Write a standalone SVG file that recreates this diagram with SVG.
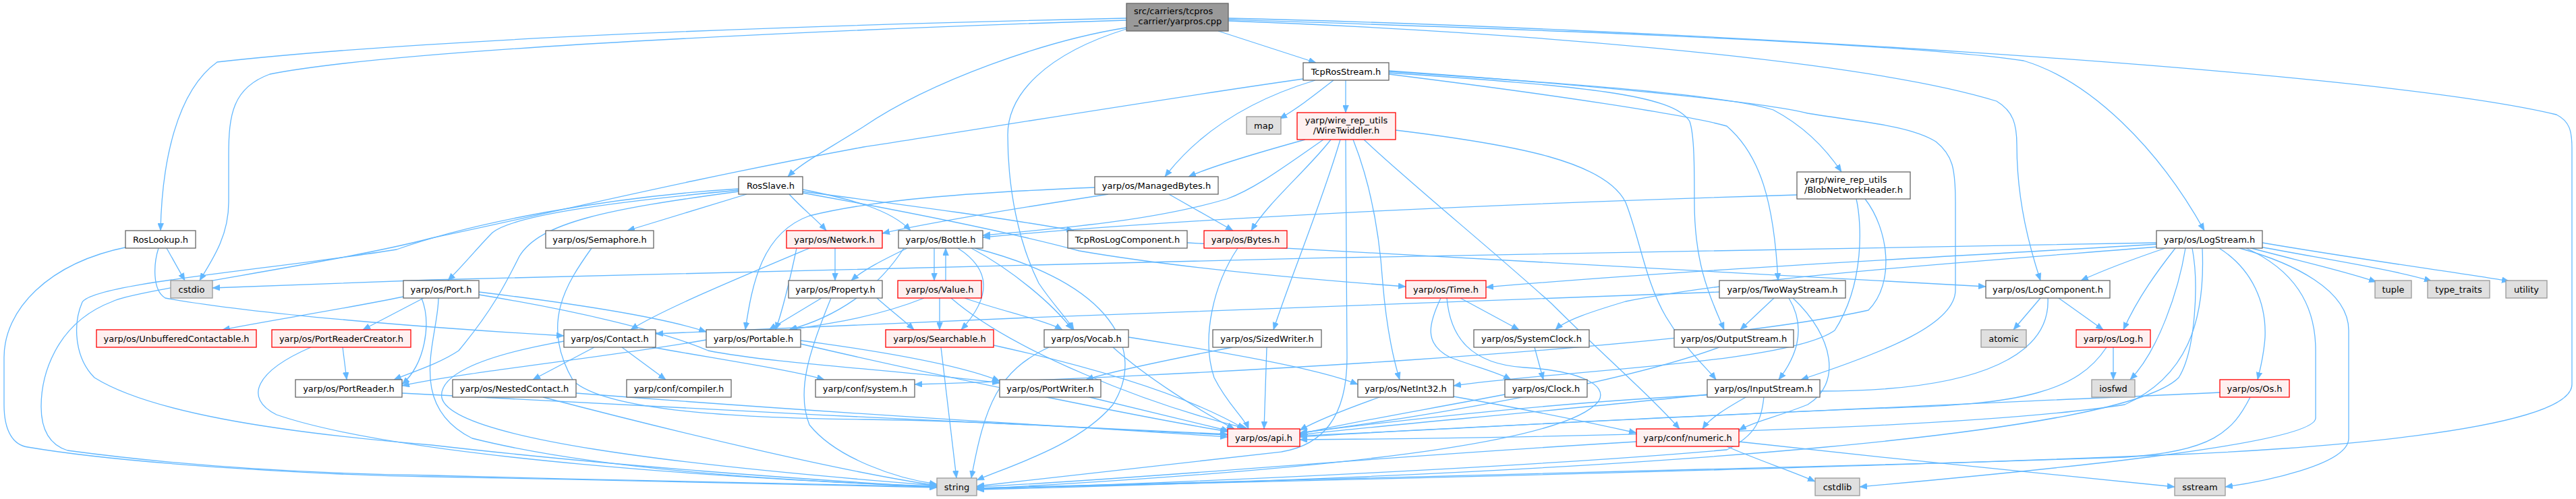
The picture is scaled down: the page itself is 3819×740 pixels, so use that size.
<svg xmlns="http://www.w3.org/2000/svg" width="3819" height="740" viewBox="0 0 3819 740">
<style>
.e{fill:none;stroke:#63B8FF;stroke-width:1.3;marker-end:url(#ah)}
.n rect{fill:#FFFFFF;stroke:#666666;stroke-width:1.3}
.r rect{fill:#FFF0F0;stroke:#FF0000;stroke-width:1.3}
.g rect{fill:#E0E0E0;stroke:#999999;stroke-width:1.3}
.root rect{fill:#999999;stroke:#666666;stroke-width:1.3}
text{font-family:"DejaVu Sans","Liberation Sans",sans-serif;font-size:13px;fill:#000000}
.c{text-anchor:middle}
</style>
<defs>
<marker id="ah" viewBox="0 0 11 9" markerWidth="11" markerHeight="9" refX="11" refY="4.5" orient="auto" markerUnits="userSpaceOnUse">
<path d="M0,0 L11,4.5 L0,9 z" fill="#63B8FF" stroke="#63B8FF" stroke-width="0.5"/>
</marker>
</defs>
<rect width="3819" height="740" fill="#FFFFFF"/>
<g id="connectors">
<path class="e" d="M1670,27 C1400,33 700,50 322,92 C262,135 240,240 238,342"/>
<path class="e" d="M1670,30 C1300,42 600,70 400,110 C345,130 339,170 339,230 L339,300 C339,350 315,385 296,416"/>
<path class="e" d="M1670,41 C1550,60 1380,120 1280,188 C1230,220 1190,240 1168,262"/>
<path class="e" d="M1806,46 L1951,93"/>
<path class="e" d="M1821,29 C2100,38 2800,60 3000,90 C3100,120 3200,220 3268,342"/>
<path class="e" d="M1821,31 C2200,45 2750,85 2960,150 C2985,165 2990,185 2990,215 C2990,300 3010,370 3025,416"/>
<path class="e" d="M1821,27 C2400,40 3500,100 3790,170 C3810,180 3813,195 3813,220 L3813,570 C3813,640 3400,668 3200,675 C2800,692 2000,712 1448,724"/>
<path class="e" d="M1670,43 C1550,80 1494,140 1494,200 C1494,280 1510,360 1540,420 C1560,450 1580,470 1592,489"/>
<path class="e" d="M1995,119 L1995,167"/>
<path class="e" d="M1977,119 C1950,140 1925,160 1897,176"/>
<path class="e" d="M1950,119 C1880,140 1790,180 1727,262"/>
<path class="e" d="M1932,117 C1700,150 1400,200 1280,218 C1000,270 800,320 640,353 C500,390 200,430 167,447 C80,480 61,560 61,603 C61,640 75,660 100,668 C300,695 500,703 640,705 C900,712 1200,718 1389,722"/>
<path class="e" d="M2059,110 C2300,140 2500,170 2560,187 C2610,230 2630,300 2636,416"/>
<path class="e" d="M2059,108 C2350,128 2480,140 2505,180 C2512,200 2512,250 2512,300 C2512,400 2540,450 2556,489"/>
<path class="e" d="M2059,106 C2300,122 2560,140 2629,163 C2680,190 2710,225 2730,255"/>
<path class="e" d="M2059,105 C2300,122 2600,148 2680,168 C2750,180 2830,185 2870,210 C2895,230 2899,250 2899,300 L2899,430 C2899,480 2800,520 2670,563"/>
<path class="e" d="M1935,207 C1870,225 1800,245 1762,262"/>
<path class="e" d="M1962,207 C1900,250 1860,280 1819,295 C1700,330 1550,340 1457,349"/>
<path class="e" d="M1973,207 C1940,250 1880,300 1855,342"/>
<path class="e" d="M1987,207 C1960,300 1910,420 1888,489"/>
<path class="e" d="M1995,207 L1997,530 C1997,620 1960,660 1900,670 C1700,692 1500,715 1448,721"/>
<path class="e" d="M2006,207 C2035,280 2046,360 2050,420 C2055,480 2065,530 2075,563"/>
<path class="e" d="M2022,207 C2100,280 2200,360 2300,450 C2380,530 2450,590 2490,636"/>
<path class="e" d="M2069,193 C2250,215 2380,240 2410,300 C2430,350 2440,420 2470,470 C2500,520 2530,545 2544,563"/>
<path class="e" d="M1733,288 L1828,342"/>
<path class="e" d="M1623,278 C1450,285 1300,295 1200,320 C1130,345 1115,420 1105,489"/>
<path class="e" d="M1643,288 C1500,310 1380,330 1308,346"/>
<path class="e" d="M1107,288 L930,342"/>
<path class="e" d="M1095,282 C900,300 760,320 730,345 C710,365 690,390 664,416"/>
<path class="e" d="M1095,284 C900,310 800,330 770,380 C750,420 730,460 680,520 C650,540 610,552 584,563"/>
<path class="e" d="M1190,281 C1260,295 1320,310 1350,342"/>
<path class="e" d="M1190,284 C1350,305 1500,325 1592,342"/>
<path class="e" d="M1170,288 C1190,310 1210,325 1225,342"/>
<path class="e" d="M1095,280 C900,292 700,330 588,370 C400,400 140,420 122,448 C108,480 110,530 140,560 C220,610 400,640 640,660 C900,690 1200,712 1389,722"/>
<path class="e" d="M1190,286 C1350,315 1500,345 1600,372 C1750,398 1950,415 2084,425"/>
<path class="e" d="M247,368 L274,416"/>
<path class="e" d="M235,368 C228,390 225,430 245,442 C400,470 700,490 836,498"/>
<path class="e" d="M190,366 C70,390 6,460 6,530 L6,600 C6,640 20,660 41,663 C200,690 500,705 640,707 C900,712 1200,718 1389,723"/>
<path class="e" d="M877,368 C840,420 800,480 850,565 C900,610 1100,620 1280,622 C1500,625 1700,640 1820,648"/>
<path class="e" d="M1200,368 C1100,410 980,460 935,489"/>
<path class="e" d="M1181,368 C1170,420 1160,460 1150,489"/>
<path class="e" d="M1238,368 L1238,416"/>
<path class="e" d="M1345,368 C1310,385 1280,400 1262,416"/>
<path class="e" d="M1385,368 L1385,416"/>
<path class="e" d="M1402,416 L1402,368"/>
<path class="e" d="M1420,368 C1470,400 1470,440 1425,489"/>
<path class="e" d="M1440,368 C1500,400 1560,450 1590,489"/>
<path class="e" d="M1445,368 C1650,420 1700,520 1650,600 C1600,660 1500,690 1448,712"/>
<path class="e" d="M1340,368 C1300,430 1240,470 1170,489"/>
<path class="e" d="M1835,368 C1800,420 1780,500 1800,560 C1820,600 1845,620 1851,636"/>
<path class="e" d="M1218,442 L1140,489"/>
<path class="e" d="M1232,442 C1200,520 1180,580 1200,630 C1240,680 1330,710 1389,718"/>
<path class="e" d="M1300,442 C1320,460 1340,475 1355,489"/>
<path class="e" d="M1393,442 L1393,489"/>
<path class="e" d="M1430,442 C1480,460 1550,475 1575,489"/>
<path class="e" d="M1410,442 C1500,520 1700,600 1850,636"/>
<path class="e" d="M1370,442 C1300,470 1230,480 1171,489"/>
<path class="e" d="M1395,515 L1418,709"/>
<path class="e" d="M1473,512 C1600,540 1750,580 1845,636"/>
<path class="e" d="M1555,515 C1480,550 1460,600 1440,709"/>
<path class="e" d="M1673,500 C1800,520 1950,545 2013,570"/>
<path class="e" d="M1650,515 C1700,560 1780,610 1830,636"/>
<path class="e" d="M1878,515 L1874,636"/>
<path class="e" d="M1827,515 C1750,530 1650,550 1610,563"/>
<path class="e" d="M2275,515 L2288,563"/>
<path class="e" d="M2231,585 C2100,610 1980,630 1927,644"/>
<path class="e" d="M2136,442 C2118,480 2110,510 2150,530 C2190,545 2220,552 2240,563"/>
<path class="e" d="M2165,442 L2252,489"/>
<path class="e" d="M2145,442 C2150,500 2180,540 2260,545 C2340,550 2385,570 2370,595 C2330,645 2100,690 1448,725"/>
<path class="e" d="M2048,588 C2000,605 1950,625 1927,638"/>
<path class="e" d="M2155,588 C2250,605 2350,625 2426,642"/>
<path class="e" d="M2590,588 C2560,605 2535,620 2524,636"/>
<path class="e" d="M2531,585 C2300,610 2000,635 1927,645"/>
<path class="e" d="M2615,588 C2612,620 2605,645 2560,667 C2300,690 1800,715 1448,725"/>
<path class="e" d="M2549,515 C2400,570 2100,620 1927,642"/>
<path class="e" d="M2630,442 L2580,489"/>
<path class="e" d="M2652,442 C2675,480 2670,520 2637,563"/>
<path class="e" d="M2658,442 C2720,500 2730,570 2680,600 C2630,620 2600,625 2578,638"/>
<path class="e" d="M2549,433 C2200,445 1500,470 972,495"/>
<path class="e" d="M2664,289 C2300,300 1800,320 1457,352"/>
<path class="e" d="M2752,295 C2760,330 2765,420 2720,490 C2650,540 2300,550 2155,572"/>
<path class="e" d="M2765,295 C2800,340 2810,420 2770,460 C2500,520 1700,560 1356,570"/>
<path class="e" d="M598,440 C500,460 400,475 330,489"/>
<path class="e" d="M628,442 L538,489"/>
<path class="e" d="M625,442 C640,480 630,540 596,570"/>
<path class="e" d="M710,433 C850,450 980,470 1047,492"/>
<path class="e" d="M710,437 C850,460 980,490 1050,520 C1150,540 1350,550 1482,568"/>
<path class="e" d="M650,442 C650,500 600,600 700,650 C900,700 1200,715 1389,721"/>
<path class="e" d="M508,515 L514,563"/>
<path class="e" d="M461,515 C380,550 360,590 410,615 C600,680 1100,710 1389,722"/>
<path class="e" d="M596,583 C900,600 1500,630 1820,644"/>
<path class="e" d="M1047,504 C900,530 700,550 596,572"/>
<path class="e" d="M1187,505 C1300,520 1420,540 1482,565"/>
<path class="e" d="M1187,510 C1400,560 1700,620 1820,640"/>
<path class="e" d="M881,515 L790,563"/>
<path class="e" d="M922,515 L987,563"/>
<path class="e" d="M967,515 C1080,535 1180,550 1222,563"/>
<path class="e" d="M836,506 C700,530 650,560 655,590 C670,650 1000,690 1389,720"/>
<path class="e" d="M805,589 C1000,640 1250,700 1389,720"/>
<path class="e" d="M854,583 C1200,610 1600,635 1820,645"/>
<path class="e" d="M1611,588 L1822,639"/>
<path class="e" d="M2426,655 C2000,680 1700,710 1448,722"/>
<path class="e" d="M2560,662 C2600,680 2660,700 2691,714"/>
<path class="e" d="M2578,655 C2800,680 3100,710 3224,722"/>
<path class="e" d="M3197,360 C2500,370 1300,395 640,415 L315,427"/>
<path class="e" d="M3330,366 C3400,385 3470,400 3523,418"/>
<path class="e" d="M3340,364 C3450,385 3550,400 3605,417"/>
<path class="e" d="M3354,360 C3500,385 3650,405 3720,417"/>
<path class="e" d="M3290,368 C3340,400 3360,450 3358,500 C3356,530 3350,550 3347,563"/>
<path class="e" d="M3225,368 C3200,400 3170,440 3148,489"/>
<path class="e" d="M3240,368 C3230,430 3200,520 3158,563"/>
<path class="e" d="M3210,368 C3160,385 3120,400 3085,416"/>
<path class="e" d="M3200,362 C2900,380 2500,400 2203,426"/>
<path class="e" d="M3200,366 C2900,390 2600,410 2410,447 C2360,462 2320,475 2306,489"/>
<path class="e" d="M3330,368 C3400,400 3433,450 3433,520 L3433,620 C3433,660 3000,700 2757,722"/>
<path class="e" d="M3320,368 C3400,390 3482,430 3482,490 L3482,650 C3482,690 3350,715 3299,722"/>
<path class="e" d="M3250,368 C3260,420 3255,520 3230,560 C3150,640 2500,700 1448,726"/>
<path class="e" d="M3265,368 C3270,480 3240,560 3150,600 C2900,640 2200,650 1927,652"/>
<path class="e" d="M3025,442 L2985,489"/>
<path class="e" d="M3052,442 L3118,489"/>
<path class="e" d="M3036,442 C3040,520 2950,580 2700,580 C2400,585 2100,620 1927,642"/>
<path class="e" d="M3123,515 C3080,580 3000,600 2800,605 C2400,620 2100,640 1927,646"/>
<path class="e" d="M3133,515 L3133,563"/>
<path class="e" d="M3291,582 C2900,600 2200,630 1927,648"/>
<path class="e" d="M3336,589 C3310,640 3280,670 3150,678 C2500,700 1800,718 1448,724"/>
<path class="e" d="M1760,360 C2100,380 2500,400 2944,425"/>
</g>
<g id="node_root" class="root"><rect x="1670" y="5" width="151" height="41"/><text x="1681" y="21">src/carriers/tcpros</text><text x="1681" y="36">_carrier/yarpros.cpp</text></g>
<g id="node_TcpRosStream" class="n"><rect x="1932" y="93" width="127" height="26"/><text class="c" x="1995.5" y="111">TcpRosStream.h</text></g>
<g id="node_WireTwiddler" class="r"><rect x="1923" y="167" width="146" height="40"/><text class="c" x="1996" y="183">yarp/wire_rep_utils</text><text class="c" x="1996" y="198">/WireTwiddler.h</text></g>
<g id="node_map" class="g"><rect x="1848" y="173" width="51" height="26"/><text class="c" x="1873.5" y="191">map</text></g>
<g id="node_ManagedBytes" class="n"><rect x="1623" y="262" width="183" height="26"/><text class="c" x="1714.5" y="280">yarp/os/ManagedBytes.h</text></g>
<g id="node_RosSlave" class="n"><rect x="1095" y="262" width="95" height="26"/><text class="c" x="1142.5" y="280">RosSlave.h</text></g>
<g id="node_BlobNetworkHeader" class="n"><rect x="2664" y="255" width="168" height="40"/><text x="2675" y="271">yarp/wire_rep_utils</text><text x="2675" y="286">/BlobNetworkHeader.h</text></g>
<g id="node_RosLookup" class="n"><rect x="186" y="342" width="104" height="26"/><text class="c" x="238" y="360">RosLookup.h</text></g>
<g id="node_Semaphore" class="n"><rect x="809" y="342" width="160" height="26"/><text class="c" x="889" y="360">yarp/os/Semaphore.h</text></g>
<g id="node_Network" class="r"><rect x="1166" y="342" width="142" height="26"/><text class="c" x="1237" y="360">yarp/os/Network.h</text></g>
<g id="node_Bottle" class="n"><rect x="1332" y="342" width="125" height="26"/><text class="c" x="1394.5" y="360">yarp/os/Bottle.h</text></g>
<g id="node_TcpRosLogComponent" class="n"><rect x="1583" y="342" width="177" height="26"/><text class="c" x="1671.5" y="360">TcpRosLogComponent.h</text></g>
<g id="node_Bytes" class="r"><rect x="1785" y="342" width="123" height="26"/><text class="c" x="1846.5" y="360">yarp/os/Bytes.h</text></g>
<g id="node_LogStream" class="n"><rect x="3197" y="342" width="157" height="26"/><text class="c" x="3275.5" y="360">yarp/os/LogStream.h</text></g>
<g id="node_cstdio" class="g"><rect x="253" y="416" width="62" height="26"/><text class="c" x="284" y="434">cstdio</text></g>
<g id="node_Port" class="n"><rect x="598" y="416" width="112" height="26"/><text class="c" x="654" y="434">yarp/os/Port.h</text></g>
<g id="node_Property" class="n"><rect x="1169" y="416" width="139" height="26"/><text class="c" x="1238.5" y="434">yarp/os/Property.h</text></g>
<g id="node_Value" class="r"><rect x="1331" y="416" width="124" height="26"/><text class="c" x="1393" y="434">yarp/os/Value.h</text></g>
<g id="node_Time" class="r"><rect x="2084" y="416" width="119" height="26"/><text class="c" x="2143.5" y="434">yarp/os/Time.h</text></g>
<g id="node_TwoWayStream" class="n"><rect x="2549" y="416" width="187" height="26"/><text class="c" x="2642.5" y="434">yarp/os/TwoWayStream.h</text></g>
<g id="node_LogComponent" class="n"><rect x="2944" y="416" width="184" height="26"/><text class="c" x="3036" y="434">yarp/os/LogComponent.h</text></g>
<g id="node_tuple" class="g"><rect x="3521" y="416" width="54" height="26"/><text class="c" x="3548" y="434">tuple</text></g>
<g id="node_type_traits" class="g"><rect x="3599" y="416" width="92" height="26"/><text class="c" x="3645" y="434">type_traits</text></g>
<g id="node_utility" class="g"><rect x="3715" y="416" width="61" height="26"/><text class="c" x="3745.5" y="434">utility</text></g>
<g id="node_UnbufferedContactable" class="r"><rect x="143" y="489" width="237" height="26"/><text class="c" x="261.5" y="507">yarp/os/UnbufferedContactable.h</text></g>
<g id="node_PortReaderCreator" class="r"><rect x="403" y="489" width="206" height="26"/><text class="c" x="506" y="507">yarp/os/PortReaderCreator.h</text></g>
<g id="node_Contact" class="n"><rect x="836" y="489" width="136" height="26"/><text class="c" x="904" y="507">yarp/os/Contact.h</text></g>
<g id="node_Portable" class="n"><rect x="1047" y="489" width="140" height="26"/><text class="c" x="1117" y="507">yarp/os/Portable.h</text></g>
<g id="node_Searchable" class="r"><rect x="1313" y="489" width="160" height="26"/><text class="c" x="1393" y="507">yarp/os/Searchable.h</text></g>
<g id="node_Vocab" class="n"><rect x="1548" y="489" width="125" height="26"/><text class="c" x="1610.5" y="507">yarp/os/Vocab.h</text></g>
<g id="node_SizedWriter" class="n"><rect x="1798" y="489" width="161" height="26"/><text class="c" x="1878.5" y="507">yarp/os/SizedWriter.h</text></g>
<g id="node_SystemClock" class="n"><rect x="2185" y="489" width="171" height="26"/><text class="c" x="2270.5" y="507">yarp/os/SystemClock.h</text></g>
<g id="node_OutputStream" class="n"><rect x="2482" y="489" width="177" height="26"/><text class="c" x="2570.5" y="507">yarp/os/OutputStream.h</text></g>
<g id="node_atomic" class="g"><rect x="2937" y="489" width="67" height="26"/><text class="c" x="2970.5" y="507">atomic</text></g>
<g id="node_Log" class="r"><rect x="3078" y="489" width="110" height="26"/><text class="c" x="3133" y="507">yarp/os/Log.h</text></g>
<g id="node_PortReader" class="n"><rect x="438" y="563" width="158" height="26"/><text class="c" x="517" y="581">yarp/os/PortReader.h</text></g>
<g id="node_NestedContact" class="n"><rect x="671" y="563" width="183" height="26"/><text class="c" x="762.5" y="581">yarp/os/NestedContact.h</text></g>
<g id="node_compiler" class="n"><rect x="929" y="563" width="155" height="26"/><text class="c" x="1006.5" y="581">yarp/conf/compiler.h</text></g>
<g id="node_system" class="n"><rect x="1209" y="563" width="147" height="26"/><text class="c" x="1282.5" y="581">yarp/conf/system.h</text></g>
<g id="node_PortWriter" class="n"><rect x="1482" y="563" width="150" height="26"/><text class="c" x="1557" y="581">yarp/os/PortWriter.h</text></g>
<g id="node_NetInt32" class="n"><rect x="2013" y="563" width="142" height="26"/><text class="c" x="2084" y="581">yarp/os/NetInt32.h</text></g>
<g id="node_Clock" class="n"><rect x="2231" y="563" width="122" height="26"/><text class="c" x="2292" y="581">yarp/os/Clock.h</text></g>
<g id="node_InputStream" class="n"><rect x="2531" y="563" width="167" height="26"/><text class="c" x="2614.5" y="581">yarp/os/InputStream.h</text></g>
<g id="node_iosfwd" class="g"><rect x="3101" y="563" width="64" height="26"/><text class="c" x="3133" y="581">iosfwd</text></g>
<g id="node_Os" class="r"><rect x="3291" y="563" width="103" height="26"/><text class="c" x="3342.5" y="581">yarp/os/Os.h</text></g>
<g id="node_api" class="r"><rect x="1820" y="636" width="107" height="26"/><text class="c" x="1873.5" y="654">yarp/os/api.h</text></g>
<g id="node_numeric" class="r"><rect x="2426" y="636" width="152" height="26"/><text class="c" x="2502" y="654">yarp/conf/numeric.h</text></g>
<g id="node_string" class="g"><rect x="1389" y="709" width="59" height="26"/><text class="c" x="1418.5" y="727">string</text></g>
<g id="node_cstdlib" class="g"><rect x="2691" y="709" width="66" height="26"/><text class="c" x="2724" y="727">cstdlib</text></g>
<g id="node_sstream" class="g"><rect x="3224" y="709" width="75" height="26"/><text class="c" x="3261.5" y="727">sstream</text></g>
</svg>
